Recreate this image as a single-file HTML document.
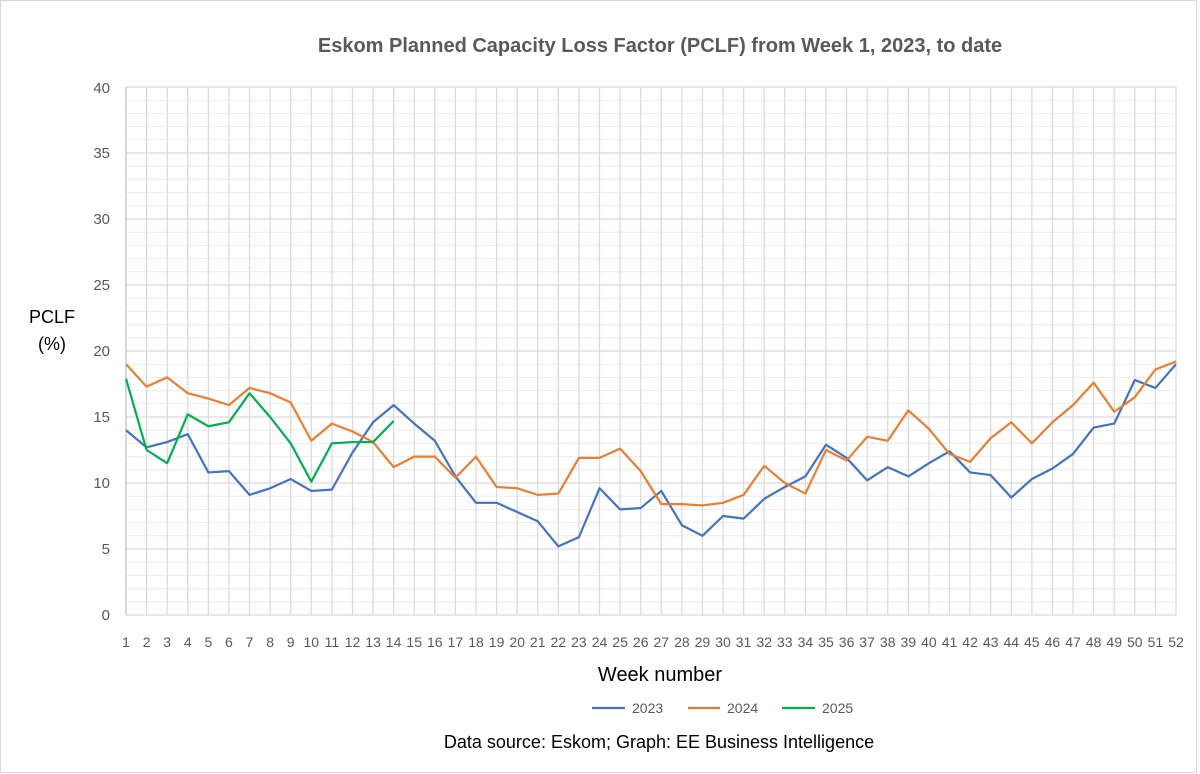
<!DOCTYPE html>
<html><head><meta charset="utf-8"><style>
body{margin:0;background:#fff}
svg{display:block;font-family:"Liberation Sans",sans-serif}
</style></head><body>
<svg width="1200" height="774" viewBox="0 0 1200 774">
<rect x="0.5" y="0.5" width="1196" height="772" fill="#fff" stroke="#d9d9d9"/>
<text x="660" y="52" text-anchor="middle" font-size="20" font-weight="bold" fill="#595959">Eskom Planned Capacity Loss Factor (PCLF) from Week 1, 2023, to date</text>
<g transform="translate(126,615) scale(20.588,-13.2)" fill="none">
<g stroke="#ececec" stroke-width="1" vector-effect="non-scaling-stroke">
<path vector-effect="non-scaling-stroke" d="M0 1H51M0 2H51M0 3H51M0 4H51M0 6H51M0 7H51M0 8H51M0 9H51M0 11H51M0 12H51M0 13H51M0 14H51M0 16H51M0 17H51M0 18H51M0 19H51M0 21H51M0 22H51M0 23H51M0 24H51M0 26H51M0 27H51M0 28H51M0 29H51M0 31H51M0 32H51M0 33H51M0 34H51M0 36H51M0 37H51M0 38H51M0 39H51"/>
</g>
<path stroke="#d9d9d9" stroke-width="1.2" vector-effect="non-scaling-stroke" d="M0 5H51M0 10H51M0 15H51M0 20H51M0 25H51M0 30H51M0 35H51M0 40H51M1 0V40M2 0V40M3 0V40M4 0V40M5 0V40M6 0V40M7 0V40M8 0V40M9 0V40M10 0V40M11 0V40M12 0V40M13 0V40M14 0V40M15 0V40M16 0V40M17 0V40M18 0V40M19 0V40M20 0V40M21 0V40M22 0V40M23 0V40M24 0V40M25 0V40M26 0V40M27 0V40M28 0V40M29 0V40M30 0V40M31 0V40M32 0V40M33 0V40M34 0V40M35 0V40M36 0V40M37 0V40M38 0V40M39 0V40M40 0V40M41 0V40M42 0V40M43 0V40M44 0V40M45 0V40M46 0V40M47 0V40M48 0V40M49 0V40M50 0V40M51 0V40M0 0H51"/>
<path stroke="#bfbfbf" stroke-width="1.2" vector-effect="non-scaling-stroke" d="M0 0V40"/>
<polyline stroke="#4472c4" stroke-width="2.2" vector-effect="non-scaling-stroke" stroke-linejoin="round" points="0,14 1,12.7 2,13.1 3,13.7 4,10.8 5,10.9 6,9.1 7,9.6 8,10.3 9,9.4 10,9.5 11,12.3 12,14.6 13,15.9 14,14.5 15,13.2 16,10.5 17,8.5 18,8.5 19,7.8 20,7.1 21,5.2 22,5.9 23,9.6 24,8.0 25,8.1 26,9.4 27,6.8 28,6.0 29,7.5 30,7.3 31,8.8 32,9.7 33,10.5 34,12.9 35,11.9 36,10.2 37,11.2 38,10.5 39,11.5 40,12.4 41,10.8 42,10.6 43,8.9 44,10.3 45,11.1 46,12.2 47,14.2 48,14.5 49,17.8 50,17.2 51,19"/>
<polyline stroke="#ed7d31" stroke-width="2.2" vector-effect="non-scaling-stroke" stroke-linejoin="round" points="0,19 1,17.3 2,18 3,16.8 4,16.4 5,15.9 6,17.2 7,16.8 8,16.1 9,13.2 10,14.5 11,13.9 12,13.1 13,11.2 14,12 15,12 16,10.4 17,12 18,9.7 19,9.6 20,9.1 21,9.2 22,11.9 23,11.9 24,12.6 25,10.9 26,8.4 27,8.4 28,8.3 29,8.5 30,9.1 31,11.3 32,10.0 33,9.2 34,12.5 35,11.7 36,13.5 37,13.2 38,15.5 39,14.1 40,12.2 41,11.6 42,13.4 43,14.6 44,13.0 45,14.6 46,15.9 47,17.6 48,15.4 49,16.5 50,18.6 51,19.2"/>
<polyline stroke="#00b050" stroke-width="2.2" vector-effect="non-scaling-stroke" stroke-linejoin="round" points="0,17.9 1,12.5 2,11.5 3,15.2 4,14.3 5,14.6 6,16.8 7,15 8,13 9,10.1 10,13 11,13.1 12,13.1 13,14.7"/>
</g>
<g font-size="15" fill="#595959" text-anchor="end">
<text x="110" y="620">0</text><text x="110" y="554">5</text><text x="110" y="488">10</text><text x="110" y="422">15</text><text x="110" y="356">20</text><text x="110" y="290">25</text><text x="110" y="224">30</text><text x="110" y="158">35</text><text x="110" y="93">40</text>
</g>
<g font-size="14" fill="#595959" text-anchor="middle">
<text x="126" y="647">1</text><text x="146.6" y="647">2</text><text x="167.2" y="647">3</text><text x="187.8" y="647">4</text><text x="208.4" y="647">5</text><text x="228.9" y="647">6</text><text x="249.5" y="647">7</text><text x="270.1" y="647">8</text><text x="290.7" y="647">9</text><text x="311.3" y="647">10</text><text x="331.9" y="647">11</text><text x="352.5" y="647">12</text><text x="373.1" y="647">13</text><text x="393.6" y="647">14</text><text x="414.2" y="647">15</text><text x="434.8" y="647">16</text><text x="455.4" y="647">17</text><text x="476" y="647">18</text><text x="496.6" y="647">19</text><text x="517.2" y="647">20</text><text x="537.7" y="647">21</text><text x="558.3" y="647">22</text><text x="578.9" y="647">23</text><text x="599.5" y="647">24</text><text x="620.1" y="647">25</text><text x="640.7" y="647">26</text><text x="661.3" y="647">27</text><text x="681.9" y="647">28</text><text x="702.4" y="647">29</text><text x="723" y="647">30</text><text x="743.6" y="647">31</text><text x="764.2" y="647">32</text><text x="784.8" y="647">33</text><text x="805.4" y="647">34</text><text x="826" y="647">35</text><text x="846.6" y="647">36</text><text x="867.1" y="647">37</text><text x="887.7" y="647">38</text><text x="908.3" y="647">39</text><text x="928.9" y="647">40</text><text x="949.5" y="647">41</text><text x="970.1" y="647">42</text><text x="990.7" y="647">43</text><text x="1011.3" y="647">44</text><text x="1031.8" y="647">45</text><text x="1052.4" y="647">46</text><text x="1073" y="647">47</text><text x="1093.6" y="647">48</text><text x="1114.2" y="647">49</text><text x="1134.8" y="647">50</text><text x="1155.4" y="647">51</text><text x="1176" y="647">52</text>
</g>
<text x="52" y="323" font-size="18" text-anchor="middle" fill="#000">PCLF</text>
<text x="52" y="350" font-size="18" text-anchor="middle" fill="#000">(%)</text>
<text x="660" y="681" font-size="20" text-anchor="middle" fill="#000">Week number</text>
<g font-size="14" fill="#595959">
<line x1="592" y1="708" x2="625" y2="708" stroke="#4472c4" stroke-width="2.2"/><text x="632" y="713">2023</text>
<line x1="688" y1="708" x2="720" y2="708" stroke="#ed7d31" stroke-width="2.2"/><text x="727" y="713">2024</text>
<line x1="782" y1="708" x2="815" y2="708" stroke="#00b050" stroke-width="2.2"/><text x="822" y="713">2025</text>
</g>
<text x="659" y="748" font-size="18" text-anchor="middle" fill="#000">Data source: Eskom; Graph: EE Business Intelligence</text>
</svg>
</body></html>
